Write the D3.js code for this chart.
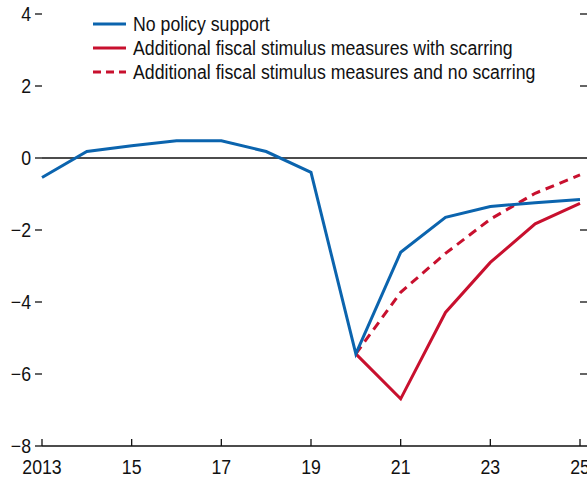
<!DOCTYPE html>
<html><head><meta charset="utf-8">
<script src="https://cdn.jsdelivr.net/npm/d3@7"></script>
<style>
html,body{margin:0;padding:0;background:#fff;}
svg{display:block;}
text{font-family:"Liberation Sans Narrow","Arial Narrow","Liberation Sans",Arial,sans-serif;fill:#111;}
</style></head>
<body>
<script>
const years = [2013,2014,2015,2016,2017,2018,2019,2020,2021,2022,2023,2024,2025];
const noPolicy = [-0.54,0.18,0.34,0.48,0.48,0.18,-0.40,-5.44,-2.62,-1.65,-1.35,-1.24,-1.15];
const stimYears = [2020,2021,2022,2023,2024,2025];
const stimScarring = [-5.44,-6.69,-4.29,-2.90,-1.83,-1.26];
const stimNoScarring = [-5.44,-3.73,-2.65,-1.70,-0.98,-0.47];
const xTicks = [2013,2015,2017,2019,2021,2023,2025];
const xTickLabels = ["2013","15","17","19","21","23","25"];
const yTicks = [-8,-6,-4,-2,0,2,4];
const legendLabels = ["No policy support","Additional fiscal stimulus measures with scarring","Additional fiscal stimulus measures and no scarring"];

const W=587,H=479;
const svg=d3.select("body").append("svg").attr("width",W).attr("height",H);
const x=d3.scaleLinear().domain([2013,2025]).range([42,580]);
const y=d3.scaleLinear().domain([-8,4]).range([446,14]);
const fmt=v=>v<0?"\u2212"+Math.abs(v):String(v);
const blue="#0b64ae", red="#c8102e";
const FS=20, K=0.885;
function condense(sel){
  sel.each(function(){
    const w=this.getComputedTextLength();
    d3.select(this).attr("textLength",w*K).attr("lengthAdjust","spacingAndGlyphs");
  });
}

// left ticks + labels
yTicks.forEach(v=>{
  svg.append("line").attr("x1",35).attr("x2",42).attr("y1",y(v)).attr("y2",y(v)).attr("stroke","#111").attr("stroke-width",1.3);
  svg.append("text").attr("class","lbl").attr("x",31).attr("y",y(v)).attr("dy","0.36em").attr("text-anchor","end").attr("font-size",FS).text(fmt(v));
});
// right ticks
yTicks.filter(v=>v!==0&&v!==-8).forEach(v=>{
  svg.append("line").attr("x1",580).attr("x2",588).attr("y1",y(v)).attr("y2",y(v)).attr("stroke","#111").attr("stroke-width",1.3);
});
// zero line
svg.append("line").attr("x1",42).attr("x2",W).attr("y1",y(0)).attr("y2",y(0)).attr("stroke","#111").attr("stroke-width",1.3);
// bottom axis
svg.append("line").attr("x1",42).attr("x2",W).attr("y1",y(-8)).attr("y2",y(-8)).attr("stroke","#111").attr("stroke-width",1.5);
xTicks.forEach((t,i)=>{
  svg.append("line").attr("x1",x(t)).attr("x2",x(t)).attr("y1",y(-8)-7).attr("y2",y(-8)).attr("stroke","#111").attr("stroke-width",1.3);
  svg.append("text").attr("class","lbl").attr("x",x(t)).attr("y",474).attr("text-anchor","middle").attr("font-size",FS).text(xTickLabels[i]);
});

const line=d3.line().x(d=>x(d[0])).y(d=>y(d[1]));
svg.append("path").datum(stimYears.map((t,i)=>[t,stimNoScarring[i]])).attr("d",line).attr("fill","none").attr("stroke",red).attr("stroke-width",3).attr("stroke-dasharray","9,6");
svg.append("path").datum(stimYears.map((t,i)=>[t,stimScarring[i]])).attr("d",line).attr("fill","none").attr("stroke",red).attr("stroke-width",3);
svg.append("path").datum(years.map((t,i)=>[t,noPolicy[i]])).attr("d",line).attr("fill","none").attr("stroke",blue).attr("stroke-width",3);

// legend
const rowsY=[24,48,72];
const styles=[{c:blue,d:null},{c:red,d:null},{c:red,d:"8,5"}];
legendLabels.forEach((l,i)=>{
  const ln=svg.append("line").attr("x1",93).attr("x2",126).attr("y1",rowsY[i]).attr("y2",rowsY[i]).attr("stroke",styles[i].c).attr("stroke-width",3);
  if(styles[i].d) ln.attr("stroke-dasharray",styles[i].d);
  svg.append("text").attr("class","lbl").attr("x",133).attr("y",rowsY[i]).attr("dy","0.36em").attr("font-size",FS).text(l);
});
condense(svg.selectAll("text.lbl"));
</script>
</body></html>
